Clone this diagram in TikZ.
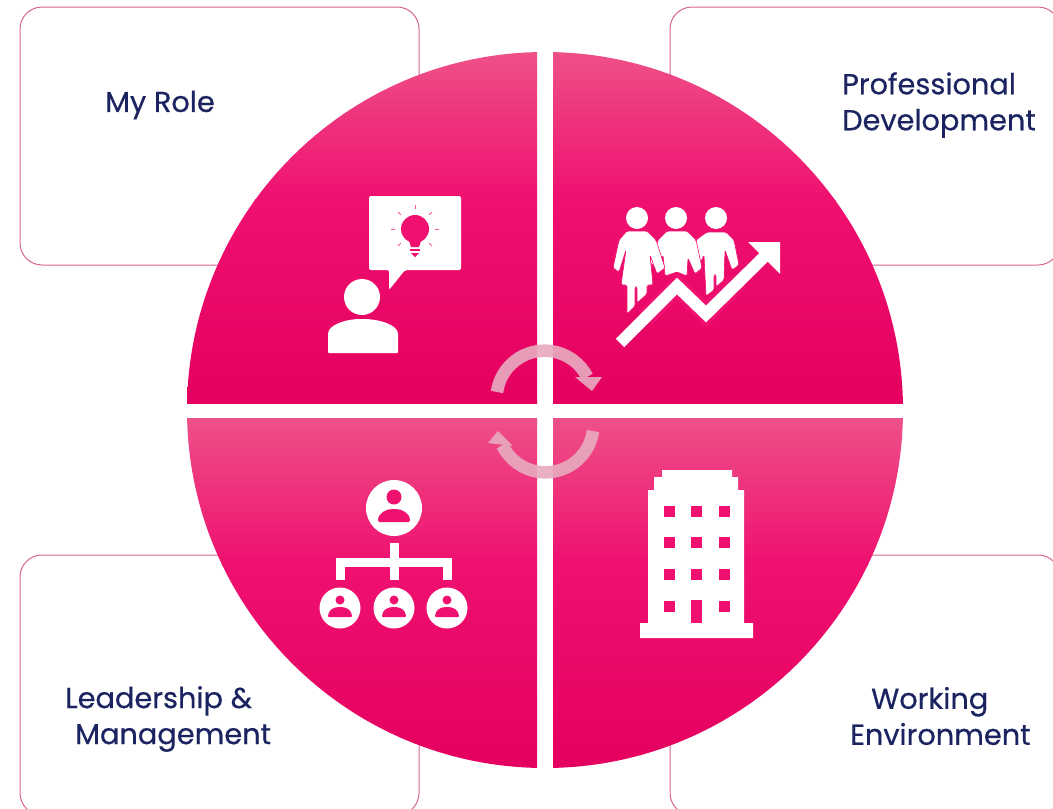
\documentclass[tikz,border=0pt]{standalone}
\usepackage{fontspec}
\setmainfont{Poppins}[FakeBold=0.5]
\definecolor{navy}{HTML}{1B2460}
\definecolor{boxline}{HTML}{D9658F}
\definecolor{hotpink}{HTML}{EF1070}
\definecolor{deeppink}{HTML}{E5005F}
\definecolor{softpink}{HTML}{EE5088}
\definecolor{loopgrey}{HTML}{E8A9BE}
\tikzset{
  roundbox/.style={draw=boxline,line width=1pt,fill=white,rounded corners=22pt},
  boxlabel/.style={text=navy,font=\fontsize{28.8}{36}\selectfont,inner sep=0pt},
  loopline/.style={draw=loopgrey,line width=12.5pt},
  loophead/.style={fill=loopgrey},
  figure/.style={fill=white,draw=hotpink,line width=0.6pt,rounded corners=1.5pt}
}
\begin{document}
\begin{tikzpicture}[x=1pt,y=-1pt]
    \useasboundingbox (0,0) rectangle (1053,809);
    \fill[white] (0,0) rectangle (1053,809);
    \draw[roundbox] (20,7) rectangle (419,265);
    \draw[roundbox] (670,7) rectangle (1060,265);
    \draw[roundbox] (20,555) rectangle (419,815);
    \draw[roundbox] (670,555) rectangle (1060,815);
    \node[boxlabel] (myrole) at (160,105) {My Role};
    \node[boxlabel,align=left,anchor=west] (development) at (842,105) {Professional\\Development};
    \node[boxlabel,align=left,anchor=west] (leadership) at (65,719) {Leadership \&\\\hspace*{10pt}Management};
    \node[boxlabel,align=left,anchor=west] (environment) at (850,716) {\hspace*{21pt}Working\\Environment};
    \begin{scope}
        \clip (545,410) circle (358);
        \shade[top color=softpink,bottom color=hotpink] (180,52) rectangle (537,200);
        \shade[top color=hotpink,bottom color=deeppink] (180,199) rectangle (537,403);
        \shade[top color=softpink,bottom color=hotpink] (553,52) rectangle (910,200);
        \shade[top color=hotpink,bottom color=deeppink] (553,199) rectangle (910,403);
        \shade[top color=softpink,bottom color=hotpink] (180,418) rectangle (537,565);
        \shade[top color=hotpink,bottom color=deeppink] (180,564) rectangle (537,770);
        \shade[top color=softpink,bottom color=hotpink] (553,418) rectangle (910,565);
        \shade[top color=hotpink,bottom color=deeppink] (553,564) rectangle (910,770);
    \end{scope}
    % my role
    \fill[white,rounded corners=2pt] (369,196) -- (461,196) -- (461,270) -- (405,270) -- (389,290) -- (389,270) -- (369,270) -- cycle;
    \fill[hotpink] (415,229) circle (14);
    \fill[hotpink] (408,238) -- (422,238) -- (419,247) -- (411,247) -- cycle;
    \fill[hotpink] (410,249) rectangle (420,251);
    \fill[hotpink] (411,253) -- (419,253) -- (415,257) -- cycle;
    \foreach \a in {0,45,135,180,225,315,90}
        \draw[hotpink!70,line width=1pt] (415,229) ++(\a:20pt) -- ++(\a:4pt);
    \fill[white] (362,297) circle (18);
    \fill[white,rounded corners=1pt] (328,353) -- (328,335) .. controls (328,325) and (345,319) .. (362,319) .. controls (380,319) and (398,325) .. (398,335) -- (398,353) -- cycle;
    % professional development
    \fill[white] (637,218) circle (11);
    \fill[white] (676,218) circle (11);
    \fill[white] (716,218) circle (11);
    \draw[figure] (707,232) -- (726,232) -- (734,240) -- (739,265) -- (732,270) -- (725,250) -- (724,280) -- (716,287) -- (716,275) -- (714,275) -- (714,290) -- (706,296) -- (704,255) -- (697,270) -- (690,262) -- (696,240) -- cycle;
    \draw[figure] (667,231) -- (687,231) -- (696,240) -- (702,268) -- (695,274) -- (688,258) -- (687,276) -- (677,272) -- (665,276) -- (663,255) -- (657,270) -- (650,262) -- (658,240) -- cycle;
    \draw[figure] (627,231) -- (647,231) -- (656,240) -- (665,268) -- (657,274) -- (650,255) -- (653,285) -- (647,285) -- (647,294) -- (637,303) -- (637,287) -- (635,287) -- (635,306) -- (627,314) -- (627,285) -- (621,285) -- (626,250) -- (619,272) -- (613,268) -- (619,240) -- cycle;
    \draw[hotpink,line width=19pt] (645,318) -- (677,286) -- (706,314) -- (740,281);
    \draw[white,line width=12pt] (620,343) -- (677,286) -- (706,314) -- (764,257);
    \fill[white] (748,242) -- (780,242) -- (780,274) -- cycle;
    % leadership
    \fill[white] (394,508) circle (28);
    \fill[hotpink] (394,497) circle (7.5);
    \fill[hotpink,rounded corners=1.5pt] (378,522) .. controls (378,513) and (386,509) .. (394,509) .. controls (402,509) and (410,513) .. (410,522) -- cycle;
    \draw[white,line width=9pt] (394,543) -- (394,580);
    \draw[white,line width=9pt] (340,580) -- (340,562) -- (447,562) -- (447,580);
    \foreach \x in {340,394,447} {
        \fill[white] (\x,608) circle (20.5);
        \fill[hotpink] (\x,600) circle (4.5);
        \fill[hotpink,rounded corners=1pt] (\x-12,617) .. controls (\x-12,610) and (\x-6,607) .. (\x,607) .. controls (\x+6,607) and (\x+12,610) .. (\x+12,617) -- cycle;
    }
    % working environment
    \fill[white] (640,638) -- (640,623) -- (648,623) -- (648,490) -- (654,490) -- (654,477) -- (662,477) -- (662,470) -- (732,470) -- (732,477) -- (738,477) -- (738,490) -- (744,490) -- (744,623) -- (753,623) -- (753,638) -- cycle;
    \foreach \x in {669,696,724}
        \foreach \y in {511,542,574}
            \fill[hotpink] (\x-5.5,\y-5.5) rectangle (\x+5.5,\y+5.5);
    \fill[hotpink] (663.5,600.5) rectangle (674.5,611.5);
    \fill[hotpink] (718.5,600.5) rectangle (729.5,611.5);
    \fill[hotpink] (691,600) rectangle (702,623);
    % loop arrows
    \begin{scope}[opacity=0.92,transparency group]
        \draw[loopline] (497,392) arc[start angle=172,end angle=27,radius=48pt];
        \fill[loophead] (575,377) -- (602,377) -- (592,391) -- cycle;
    \end{scope}
    \begin{scope}[opacity=0.92,transparency group]
        \draw[loopline] (593,431) arc[start angle=-8,end angle=-154,radius=48pt];
        \fill[loophead] (488,443) -- (498,431) -- (513,446) -- cycle;
    \end{scope}
\end{tikzpicture}
\end{document}
